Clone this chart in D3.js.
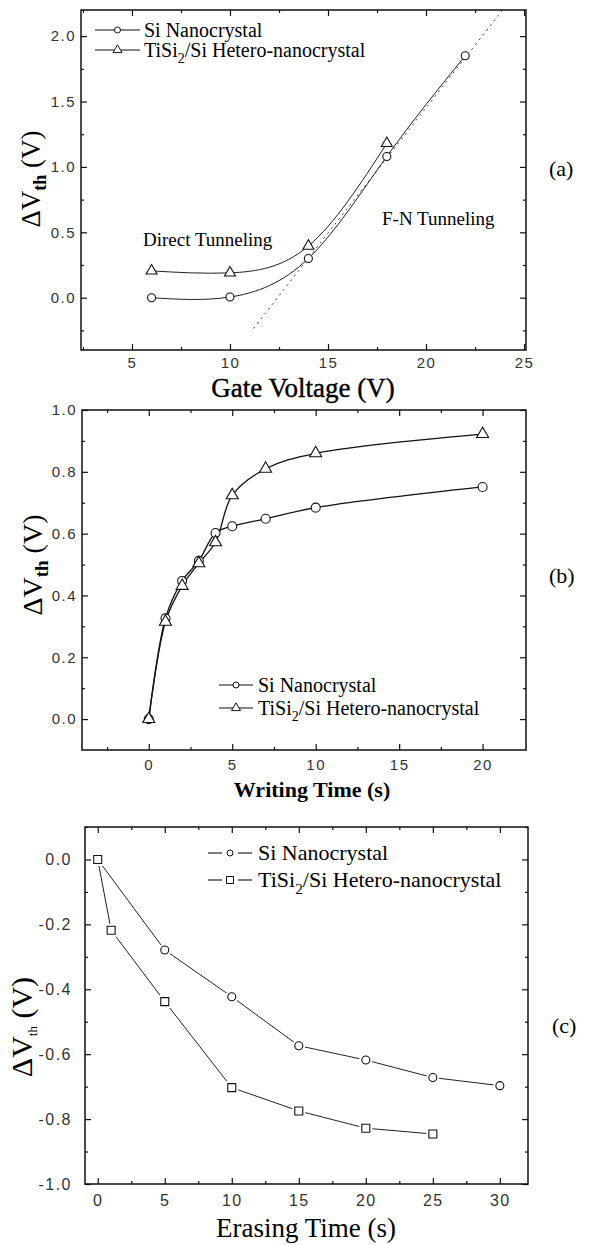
<!DOCTYPE html>
<html>
<head>
<meta charset="utf-8">
<title>Delta Vth panels</title>
<style>
  body { margin: 0; background: #fff; }
</style>
</head>
<body>
<script src="https://d3js.org/d3.v7.min.js"></script>
<script>
// ---- data ----
// (a) threshold shift vs gate voltage
const gateV_si = [6, 10, 14, 18, 22];
const dvth_si_a = [0.0, 0.005, 0.30, 1.08, 1.85];
const gateV_ti = [6, 10, 14, 18];
const dvth_ti_a = [0.205, 0.19, 0.395, 1.18];
const fnFitX = [11.2, 23.9];          // dotted F-N guide line
const fnFitY = [-0.235, 2.2];

// (b) threshold shift vs writing time
const writeT = [0, 1, 2, 3, 4, 5, 7, 10, 20];
const dvth_si_b = [0.0, 0.326, 0.447, 0.512, 0.602, 0.624, 0.648, 0.684, 0.751];
const dvth_ti_b = [0.0, 0.315, 0.431, 0.504, 0.572, 0.724, 0.81, 0.86, 0.922];

// (c) threshold shift vs erasing time
const eraseT_si = [0, 5, 10, 15, 20, 25, 30];
const dvth_si_c = [0.0, -0.279, -0.423, -0.574, -0.618, -0.672, -0.697];
const eraseT_ti = [0, 1, 5, 10, 15, 20, 25];
const dvth_ti_c = [0.0, -0.218, -0.438, -0.703, -0.775, -0.828, -0.846];

// tick values
const ticksA_x = [5, 10, 15, 20, 25];
const minorA_x = [2.5, 7.5, 12.5, 17.5, 22.5];
const ticksA_y = [0, 0.5, 1.0, 1.5, 2.0];
const minorA_y = [-0.25, 0.25, 0.75, 1.25, 1.75];
const ticksB_x = [0, 5, 10, 15, 20];
const minorB_x = [-2.5, 2.5, 7.5, 12.5, 17.5];
const ticksB_y = [0, 0.2, 0.4, 0.6, 0.8, 1.0];
const minorB_y = [0.1, 0.3, 0.5, 0.7, 0.9];
const ticksC_x = [0, 5, 10, 15, 20, 25, 30];
const minorC_x = [2.5, 7.5, 12.5, 17.5, 22.5, 27.5];
const ticksC_y = [0, -0.2, -0.4, -0.6, -0.8, -1.0];
const minorC_y = [0.1, -0.1, -0.3, -0.5, -0.7, -0.9];

const legendNames = ["Si Nanocrystal", "TiSi", "2", "/Si Hetero-nanocrystal"];

const serif = "'Liberation Serif', 'Times New Roman', serif";
const sans = "'Liberation Sans', Arial, sans-serif";

const width = 595, height = 1245;
const svg = d3.select("body").append("svg")
    .attr("width", width)
    .attr("height", height);

let clipId = 0;

function label(x, y, size, str) {
    return svg.append("text")
        .attr("x", x).attr("y", y)
        .attr("font-family", serif)
        .attr("font-size", size)
        .attr("fill", "#000")
        .text(str);
}

function drawPanel(cfg) {
    const f = cfg.frame;
    const x = d3.scaleLinear().domain(cfg.xDomain).range([f.x, f.x + f.w]);
    const y = d3.scaleLinear().domain(cfg.yDomain).range([f.y + f.h, f.y]);
    const g = svg.append("g");

    const id = "clip" + (clipId++);
    g.append("clipPath").attr("id", id)
        .append("rect").attr("x", f.x).attr("y", f.y).attr("width", f.w).attr("height", f.h);

    const fmt = d => d3.format(".1f")(d).replace("\u2212", "-");
    const styleTicks = sel => {
        sel.select(".domain").remove();
        sel.selectAll(".tick line").attr("stroke", "#111").attr("stroke-width", 1.2);
        sel.selectAll("text")
            .attr("font-family", sans)
            .attr("font-size", cfg.tickFont)
            .attr("fill", "#333")
            .style("letter-spacing", "1.5px");
    };

    g.append("g").attr("transform", `translate(0,${f.y + f.h})`)
        .call(d3.axisBottom(x).tickValues(cfg.xTicks).tickSize(-6).tickPadding(cfg.xPad).tickFormat(d3.format("d")))
        .call(styleTicks);
    g.append("g").attr("transform", `translate(0,${f.y + f.h})`)
        .call(d3.axisBottom(x).tickValues(cfg.xMinor).tickSize(-3).tickFormat(""))
        .call(styleTicks);
    g.append("g").attr("transform", `translate(0,${f.y})`)
        .call(d3.axisTop(x).tickValues(cfg.xTicks).tickSize(-6).tickFormat(""))
        .call(styleTicks);
    g.append("g").attr("transform", `translate(0,${f.y})`)
        .call(d3.axisTop(x).tickValues(cfg.xMinor).tickSize(-3).tickFormat(""))
        .call(styleTicks);

    g.append("g").attr("transform", `translate(${f.x},0)`)
        .call(d3.axisLeft(y).tickValues(cfg.yTicks).tickSize(-6).tickPadding(cfg.yPad).tickFormat(fmt))
        .call(styleTicks);
    g.append("g").attr("transform", `translate(${f.x},0)`)
        .call(d3.axisLeft(y).tickValues(cfg.yMinor).tickSize(-3).tickFormat(""))
        .call(styleTicks);
    g.append("g").attr("transform", `translate(${f.x + f.w},0)`)
        .call(d3.axisRight(y).tickValues(cfg.yTicks).tickSize(-6).tickFormat(""))
        .call(styleTicks);
    g.append("g").attr("transform", `translate(${f.x + f.w},0)`)
        .call(d3.axisRight(y).tickValues(cfg.yMinor).tickSize(-3).tickFormat(""))
        .call(styleTicks);

    g.append("rect")
        .attr("x", f.x).attr("y", f.y).attr("width", f.w).attr("height", f.h)
        .attr("fill", "none").attr("stroke", "#111").attr("stroke-width", 1.5);

    const plot = g.append("g").attr("clip-path", `url(#${id})`);
    return {x, y, g, plot};
}

function markerPath(type, cx, cy, s) {
    if (type === "triangle") {
        const h = s * Math.sqrt(3) / 2;
        return `M${cx},${cy - h * 2 / 3}L${cx - s / 2},${cy + h / 3}L${cx + s / 2},${cy + h / 3}Z`;
    }
    if (type === "square") {
        return `M${cx - s / 2},${cy - s / 2}h${s}v${s}h${-s}Z`;
    }
    const r = s / 2;
    return `M${cx - r},${cy}a${r},${r} 0 1,0 ${2 * r},0a${r},${r} 0 1,0 ${-2 * r},0Z`;
}

function drawSeries(p, xs, ys, opt) {
    const pts = d3.zip(xs, ys);
    const line = d3.line().x(d => p.x(d[0])).y(d => p.y(d[1])).curve(opt.curve);
    p.plot.append("path").datum(pts)
        .attr("d", line)
        .attr("fill", "none")
        .attr("stroke", opt.color)
        .attr("stroke-width", opt.lineWidth);
    const m = p.g.append("g");
    if (opt.halo) {
        m.selectAll("path.halo").data(pts).join("path").attr("class", "halo")
            .attr("d", d => markerPath(opt.marker, p.x(d[0]), p.y(d[1]), opt.size))
            .attr("fill", "#fff").attr("stroke", "#fff").attr("stroke-width", opt.halo);
    }
    m.selectAll("path.mk").data(pts).join("path").attr("class", "mk")
        .attr("d", d => markerPath(opt.marker, p.x(d[0]), p.y(d[1]), opt.size))
        .attr("fill", "#fff").attr("stroke", "#111").attr("stroke-width", 1.1);
}

function legendRow(x0, x1, cy, textX, type, size, name, fontSize, gap) {
    const mid = (x0 + x1) / 2;
    if (gap) {
        svg.append("line").attr("x1", x0).attr("x2", mid - gap).attr("y1", cy).attr("y2", cy)
            .attr("stroke", "#111").attr("stroke-width", 1.1);
        svg.append("line").attr("x1", mid + gap).attr("x2", x1).attr("y1", cy).attr("y2", cy)
            .attr("stroke", "#111").attr("stroke-width", 1.1);
    } else {
        svg.append("line").attr("x1", x0).attr("x2", x1).attr("y1", cy).attr("y2", cy)
            .attr("stroke", "#111").attr("stroke-width", 1.1);
    }
    svg.append("path").attr("d", markerPath(type, mid, cy, size))
        .attr("fill", "#fff").attr("stroke", "#111").attr("stroke-width", 1);
    const t = label(textX, cy + fontSize * 0.33, fontSize, null);
    if (name.length === 1) {
        t.text(name[0]);
    } else {
        t.append("tspan").text(name[0]);
        t.append("tspan").attr("dy", fontSize * 0.3).attr("font-size", fontSize * 0.7).text(name[1]);
        t.append("tspan").attr("dy", -fontSize * 0.3).text(name[2]);
    }
}

function yTitle(cx, cy, fs, subFs, subBold, subDy) {
    const t = svg.append("text")
        .attr("transform", `translate(${cx},${cy}) rotate(-90)`)
        .attr("text-anchor", "middle")
        .attr("font-family", serif)
        .attr("font-size", fs);
    t.append("tspan").text("\u0394V");
    t.append("tspan").attr("dy", subDy).attr("font-size", subFs)
        .attr("font-weight", subBold ? "bold" : "normal").text("th");
    t.append("tspan").attr("dy", -subDy).text(" (V)");
}

// ---------------- panel (a) ----------------
const pa = drawPanel({
    frame: {x: 81, y: 10, w: 445, h: 340},
    xDomain: [2.4, 25.1], yDomain: [-0.4, 2.2],
    xTicks: ticksA_x, xMinor: minorA_x, yTicks: ticksA_y, yMinor: minorA_y,
    xPad: 7, yPad: 5, tickFont: 15
});
pa.plot.append("path").datum(d3.zip(fnFitX, fnFitY))
    .attr("d", d3.line().x(d => pa.x(d[0])).y(d => pa.y(d[1])))
    .attr("fill", "none").attr("stroke", "#444").attr("stroke-width", 1)
    .attr("stroke-dasharray", "2,4");
drawSeries(pa, gateV_si, dvth_si_a, {curve: d3.curveNatural, color: "#222", lineWidth: 1, marker: "circle", size: 8});
drawSeries(pa, gateV_ti, dvth_ti_a, {curve: d3.curveNatural, color: "#222", lineWidth: 1, marker: "triangle", size: 11});
legendRow(95, 140, 30, 144, "circle", 6, [legendNames[0]], 20);
legendRow(95, 140, 50, 144, "triangle", 9, legendNames.slice(1), 20);
label(143, 246, 19, "Direct Tunneling");
label(382, 225, 19, "F-N Tunneling");
label(303, 397, 27, "Gate Voltage (V)")
    .attr("text-anchor", "middle").attr("stroke", "#000").attr("stroke-width", 0.4);
yTitle(40, 179, 27, 18, true, 6);
label(549, 176, 22, "(a)");

// ---------------- panel (b) ----------------
const pb = drawPanel({
    frame: {x: 82, y: 410, w: 444, h: 340},
    xDomain: [-4, 22.6], yDomain: [-0.1, 1.0],
    xTicks: ticksB_x, xMinor: minorB_x, yTicks: ticksB_y, yMinor: minorB_y,
    xPad: 9, yPad: 5, tickFont: 15
});
drawSeries(pb, writeT, dvth_si_b, {curve: d3.curveCatmullRom.alpha(0.5), color: "#111", lineWidth: 1.3, marker: "circle", size: 9});
drawSeries(pb, writeT, dvth_ti_b, {curve: d3.curveCatmullRom.alpha(0.5), color: "#111", lineWidth: 1.3, marker: "triangle", size: 12});
legendRow(219, 253, 685, 258, "circle", 6, [legendNames[0]], 20);
legendRow(219, 253, 708, 258, "triangle", 9, legendNames.slice(1), 20);
label(312, 797, 22, "Writing Time (s)")
    .attr("text-anchor", "middle").attr("font-weight", "bold");
yTitle(42, 565, 28, 19, true, 6);
label(549, 583, 22, "(b)");

// ---------------- panel (c) ----------------
const pc = drawPanel({
    frame: {x: 85, y: 827, w: 443, h: 357},
    xDomain: [-0.95, 32.1], yDomain: [-1.0, 0.1],
    xTicks: ticksC_x, xMinor: minorC_x, yTicks: ticksC_y, yMinor: minorC_y,
    xPad: 11, yPad: 13, tickFont: 16
});
drawSeries(pc, eraseT_si, dvth_si_c, {curve: d3.curveLinear, color: "#222", lineWidth: 1, marker: "circle", size: 8, halo: 5});
drawSeries(pc, eraseT_ti, dvth_ti_c, {curve: d3.curveLinear, color: "#222", lineWidth: 1, marker: "square", size: 8, halo: 5});
legendRow(208, 252, 853, 258, "circle", 6, [legendNames[0]], 22, 8);
legendRow(208, 252, 880, 258, "square", 7, legendNames.slice(1), 22, 8);
label(306, 1237, 27, "Erasing Time (s)").attr("text-anchor", "middle");
yTitle(32, 1027, 30, 13, false, 5);
label(552, 1033, 22, "(c)");
</script>
</body>
</html>
